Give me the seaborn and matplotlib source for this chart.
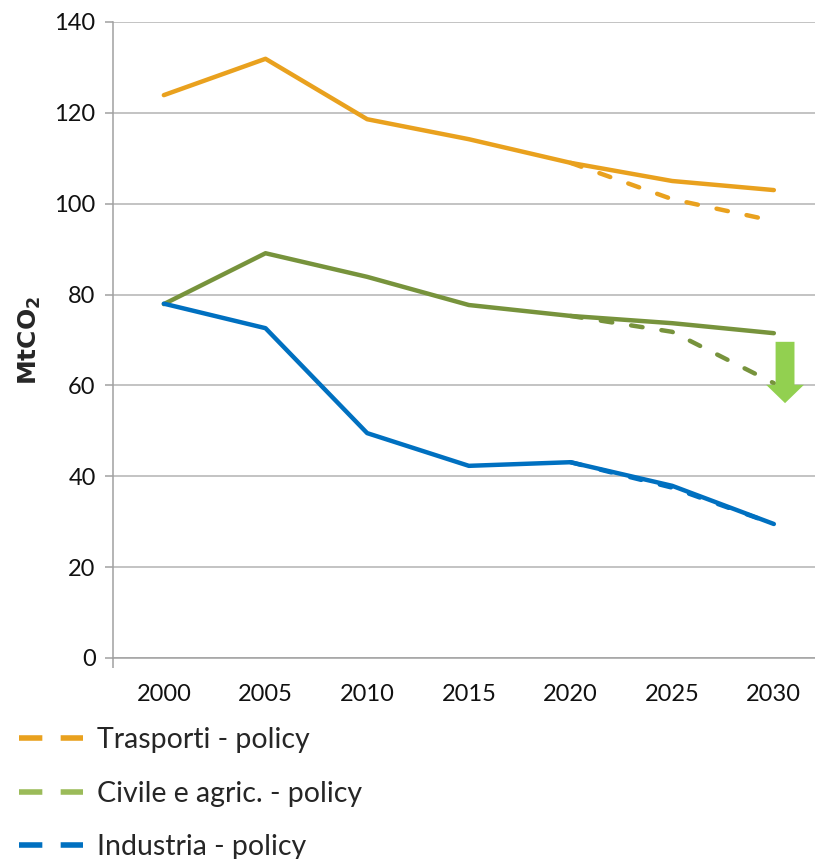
import matplotlib
matplotlib.use("Agg")
import matplotlib.pyplot as plt
from matplotlib.lines import Line2D
import seaborn as sns
import pandas as pd

years = ["2000", "2005", "2010", "2015", "2020", "2025", "2030"]
trasporti = [123.9, 131.9, 118.6, 114.2, 109.0, 105.0, 103.0]
trasporti_policy = [None, None, None, None, 109.0, 101.0, 96.2]
civile = [77.9, 89.1, 83.9, 77.7, 75.3, 73.7, 71.5]
civile_policy = [None, None, None, None, 75.3, 71.8, 60.5]
industria = [78.0, 72.6, 49.5, 42.3, 43.1, 37.9, 29.5]
industria_policy = [None, None, None, None, 43.1, 37.5, 29.5]
y_ticks = [0, 20, 40, 60, 80, 100, 120, 140]
legend_labels = ["Trasporti - policy", "Civile e agric. - policy", "Industria - policy"]

c_or = "#E9A11E"
c_gr = "#77933C"
c_gr_leg = "#9BBB59"
c_bl = "#0070C0"
c_arrow = "#92D050"

sns.set_theme(style="white")
plt.rcParams["font.family"] = ["Lato", "DejaVu Sans"]
plt.rcParams["mathtext.fontset"] = "dejavusans"

W, H = 815, 859
fig = plt.figure(figsize=(W / 100, H / 100), dpi=100)
ax_w = 101.67 * 7
ax = fig.add_axes([113 / W, (H - 658) / H, ax_w / W, 636 / H])

x = list(range(len(years)))

def series(vals):
    return pd.DataFrame({"x": [i for i, v in zip(x, vals) if v is not None],
                         "y": [v for v in vals if v is not None]})

lw = 3.2
dash = (0, (2.6, 4.3))
for vals, col in [(trasporti_policy, c_or), (civile_policy, c_gr), (industria_policy, c_bl)]:
    sns.lineplot(data=series(vals), x="x", y="y", ax=ax, color=col, lw=lw,
                 linestyle=dash, dash_capstyle="round", zorder=3)
for vals, col in [(trasporti, c_or), (civile, c_gr), (industria, c_bl)]:
    sns.lineplot(data=series(vals), x="x", y="y", ax=ax, color=col, lw=lw,
                 solid_capstyle="round", zorder=4)

# green arrow
ax.annotate("", xy=(6.11, 56.1), xytext=(6.11, 69.6),
            arrowprops=dict(arrowstyle="simple,head_length=0.66,head_width=1.36,tail_width=0.68",
                            color=c_arrow, lw=0, mutation_scale=20, shrinkA=0, shrinkB=0),
            zorder=5)

ax.set_xlim(-0.5, 6.5)
ax.set_ylim(0, 140)
ax.set_yticks(y_ticks)
ax.set_xticks(x)
ax.set_xticklabels(years)
ax.set_xlabel("")
ax.set_ylabel(r"$\mathbf{MtCO_2}$", fontsize=18)
ax.yaxis.set_label_coords(-(113 - 43) / ax_w, 0.5)
ax.yaxis.grid(True, color="#B3B3B3", lw=1.1)
ax.xaxis.grid(False)
for s in ["top", "right"]:
    ax.spines[s].set_visible(False)
for s in ["left", "bottom"]:
    ax.spines[s].set_color("#A0A0A0")
    ax.spines[s].set_linewidth(1.1)
ax.tick_params(axis="y", which="both", left=True, length=6, width=1.1, color="#A0A0A0",
               labelsize=17, pad=6.5, labelcolor="#111111")
ax.tick_params(axis="x", which="major", bottom=False, labelsize=17, pad=12.5, labelcolor="#111111")
ax.set_xticks([-0.5], minor=True)
ax.tick_params(axis="x", which="minor", bottom=True, length=7, color="#A0A0A0", width=1.1)
ax.set_facecolor("white")

handles = [Line2D([0], [0], color=c, lw=4, linestyle=(0, (4.2, 3.3)))
           for c in [c_or, c_gr_leg, c_bl]]
fig.legend(handles, legend_labels, loc="upper left", bbox_to_anchor=(19 / W, (H - 727) / H),
           frameon=False, fontsize=20.5, handlelength=2.25, handletextpad=0.5,
           labelspacing=0.97, borderaxespad=0, borderpad=0)

fig.savefig("out.png", dpi=100, facecolor="white")
